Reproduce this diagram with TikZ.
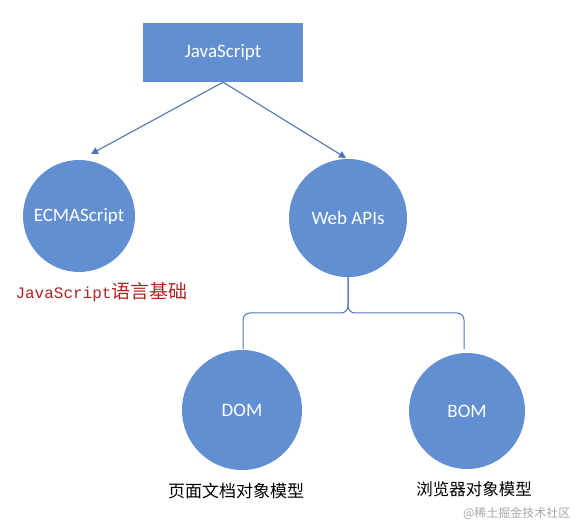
\documentclass[tikz,border=0pt]{standalone}
\usepackage{fontspec}
\setmainfont{Carlito}
\newfontfamily\cjk{Noto Sans CJK SC}
\newfontfamily\mono{Liberation Mono}
\usetikzlibrary{arrows.meta}
\definecolor{nodeblue}{RGB}{98,143,209}
\definecolor{lineblue}{RGB}{78,116,180}
\definecolor{labelred}{RGB}{178,34,34}
\tikzset{
  box/.style={fill=nodeblue, draw=none, minimum width=160pt, minimum height=59pt, text=white, font=\fontsize{19}{22}\selectfont},
  ball/.style={circle, fill=nodeblue, draw=none, text=white, font=\fontsize{19}{22}\selectfont},
  conn/.style={draw=lineblue, line width=1.1pt, -{Triangle[length=7pt,width=7pt]}},
  brace/.style={draw=lineblue, line width=1pt, rounded corners=7pt},
  captext/.style={font=\cjk\fontsize{17}{20}\selectfont, text=black}
}
\begin{document}
\begin{tikzpicture}[x=1pt,y=-1pt]
\useasboundingbox (0,0) rectangle (578,526);
\node[box] (js) at (223,52.5) {JavaScript};
\node[ball, minimum size=112pt] (ecma) at (79,216) {ECMAScript};
\node[ball, minimum size=118pt] (web) at (348,218) {Web APIs};
\node[ball, minimum size=120pt] (dom) at (242,410) {DOM};
\node[ball, minimum size=116pt] (bom) at (467,411) {BOM};
\coordinate (top) at (js.south);
\draw[conn] (top) -- (91,154);
\draw[conn] (top) -- (346,158);
\coordinate (mid) at (348,313);
\coordinate (bl) at (243,349);
\coordinate (br) at (464,349);
\draw[brace] (web.south) -- (mid) -- (243,313) -- (bl);
\draw[brace] (web.south) -- (mid) -- (464,313) -- (br);
\node[text=labelred, font=\fontsize{16}{19}\selectfont, anchor=west] (lab1) at (12,292) {{\mono JavaScript}{\cjk\fontsize{19}{21}\selectfont 语言基础}};
\node[captext] (lab2) at (236,491) {页面文档对象模型};
\node[captext, font=\cjk\fontsize{16.5}{19}\selectfont] (lab3) at (474,489) {浏览器对象模型};
\node[font=\cjk\fontsize{12}{14}\selectfont, text=black!35, anchor=east] (wm) at (574,513) {@稀土掘金技术社区};
\end{tikzpicture}
\end{document}
